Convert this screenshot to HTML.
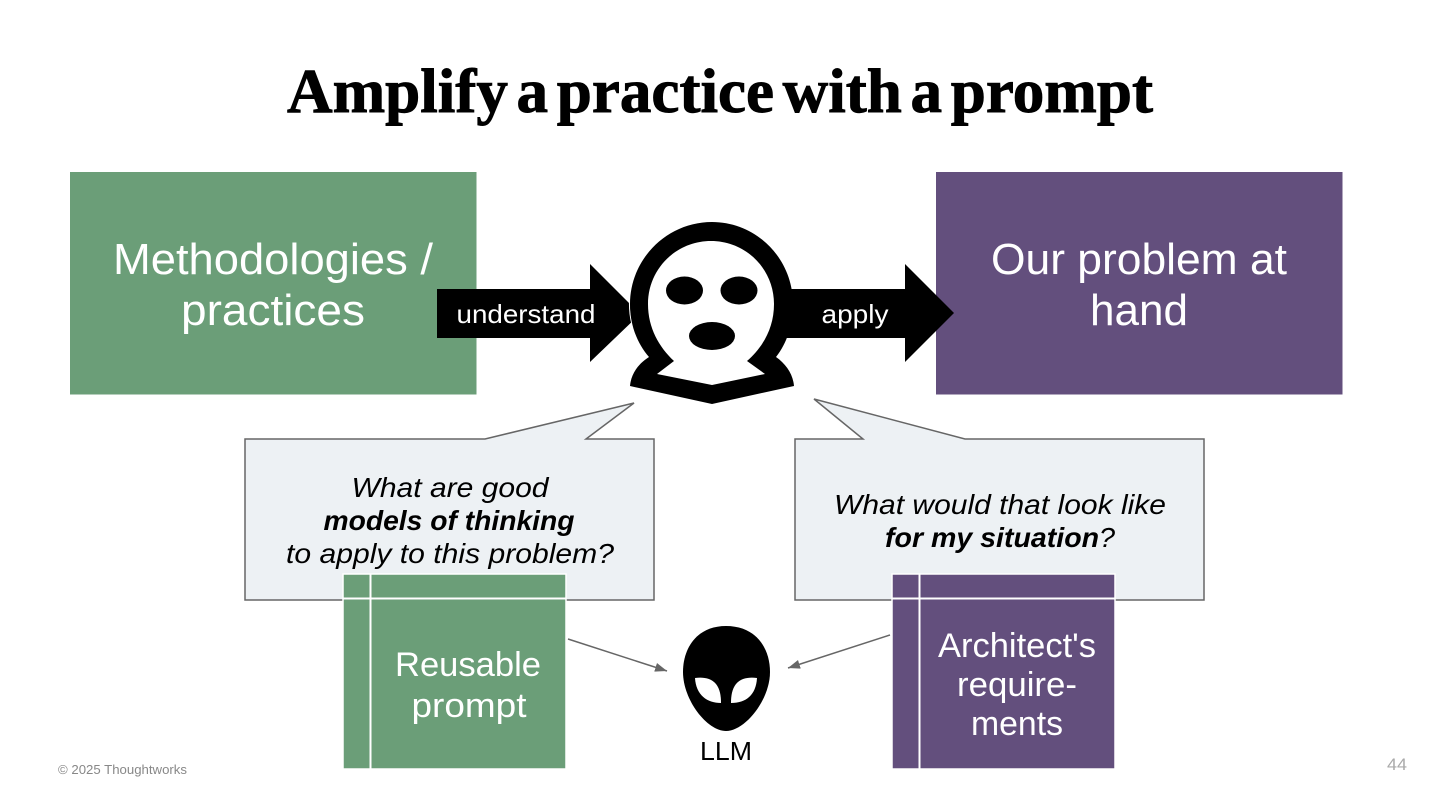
<!DOCTYPE html>
<html><head><meta charset="utf-8"><style>
html,body{margin:0;padding:0;background:#fff;width:1440px;height:810px;overflow:hidden}
svg{display:block}
text{font-family:"Liberation Sans",sans-serif}
</style></head><body>
<svg width="1440" height="810" viewBox="0 0 1440 810" xmlns="http://www.w3.org/2000/svg">
<defs><marker id="a" markerWidth="12" markerHeight="10" refX="12" refY="4.500" orient="auto" markerUnits="userSpaceOnUse"><path d="M0 0L12 4.500L0 9z" fill="#666"/></marker></defs>
<text x="720" y="112" text-anchor="middle" style="font-family:'Liberation Serif',serif;font-weight:700;font-size:62px;word-spacing:-7px" textLength="866" lengthAdjust="spacingAndGlyphs" fill="#000" stroke="#000" stroke-width="0.900">Amplify a practice with a prompt</text>

<rect x="70" y="172" width="406.500" height="222.500" fill="#6b9e78"/>
<rect x="936" y="172" width="406.500" height="222.500" fill="#634f7d"/>
<g fill="#fff" font-size="44" text-anchor="middle">
<text x="273" y="274" textLength="320" lengthAdjust="spacingAndGlyphs">Methodologies /</text>
<text x="273" y="325" textLength="184" lengthAdjust="spacingAndGlyphs">practices</text>
<text x="1139" y="274" textLength="296" lengthAdjust="spacingAndGlyphs">Our problem at</text>
<text x="1139" y="325" textLength="98" lengthAdjust="spacingAndGlyphs">hand</text>
</g>

<path d="M437 289H590V264L640 314L590 362V338H437Z" fill="#000"/>
<path d="M780 289H905V264L954 313L905 362V338H780Z" fill="#000"/>
<text x="526" y="323" fill="#fff" font-size="26" text-anchor="middle" textLength="139" lengthAdjust="spacingAndGlyphs">understand</text>
<text x="855" y="323" fill="#fff" font-size="26" text-anchor="middle" textLength="67" lengthAdjust="spacingAndGlyphs">apply</text>

<path d="M629.500 302C629.500 310 630 317 632 324" stroke="#fff" stroke-width="1.200" fill="none"/>
<path d="M712 222C667 222 630 259 630 304C630 325 637 343 649 357C638 364 631 374 630 386L712 404L794 386C793 374 786 364 776 357C787 343 793 325 793 304C793 259 757 222 712 222Z" fill="#000"/>
<path d="M711 241C676 241 648 269 648 304C648 328 659 347 674 361L657 374L712 385L765 374L747 361C763 347 774 328 774 304C774 269 746 241 711 241Z" fill="#fff"/>
<ellipse cx="684.500" cy="290.500" rx="18.500" ry="14" fill="#000"/>
<ellipse cx="739" cy="290.500" rx="18.500" ry="14" fill="#000"/>
<ellipse cx="712" cy="336" rx="23" ry="14" fill="#000"/>

<path d="M245 439H485L634 403L586 439H654V600H245Z" fill="#edf1f4" stroke="#666" stroke-width="1.500"/>
<path d="M795 439H863L814 399L965 439H1204V600H795Z" fill="#edf1f4" stroke="#666" stroke-width="1.500"/>
<g font-size="28" fill="#000" text-anchor="middle" font-style="italic">
<text x="450" y="497" textLength="197" lengthAdjust="spacingAndGlyphs">What are good</text>
<text x="449" y="530" font-weight="700" textLength="251" lengthAdjust="spacingAndGlyphs">models of thinking</text>
<text x="450" y="563" textLength="328" lengthAdjust="spacingAndGlyphs">to apply to this problem?</text>
<text x="1000" y="514" textLength="332" lengthAdjust="spacingAndGlyphs">What would that look like</text>
<text x="1000" y="547" textLength="230" lengthAdjust="spacingAndGlyphs"><tspan font-weight="700">for my situation</tspan>?</text>
</g>

<rect x="343" y="574" width="223" height="195" fill="#6b9e78" stroke="#fff" stroke-width="1.500"/>
<path d="M343 598.500H566M370.500 574V769" stroke="#fff" stroke-width="2" fill="none"/>
<rect x="892" y="574" width="223" height="195" fill="#634f7d" stroke="#fff" stroke-width="1.500"/>
<path d="M892 598.500H1115M919.500 574V769" stroke="#fff" stroke-width="2" fill="none"/>
<g fill="#fff" font-size="34" text-anchor="middle">
<text x="468" y="676" textLength="146" lengthAdjust="spacingAndGlyphs">Reusable</text>
<text x="469" y="717" textLength="115" lengthAdjust="spacingAndGlyphs">prompt</text>
<text x="1017" y="657" textLength="158" lengthAdjust="spacingAndGlyphs">Architect's</text>
<text x="1017" y="696" textLength="120" lengthAdjust="spacingAndGlyphs">require-</text>
<text x="1017" y="735" textLength="92" lengthAdjust="spacingAndGlyphs">ments</text>
</g>

<path d="M568 639L667 671" stroke="#666" stroke-width="1.500" fill="none" marker-end="url(#a)"/>
<path d="M890 635L788 668" stroke="#666" stroke-width="1.500" fill="none" marker-end="url(#a)"/>

<path d="M726 626C756 626 770 648 770 672C770 700 745 731 726 731C707 731 683 700 683 672C683 648 697 626 726 626Z" fill="#000"/>
<path d="M695 678C703 677 711 678 716 684C720 689 721 696 721 703C707 703 696 695 695 678Z" fill="#fff"/>
<path d="M757 678C749 677 741 678 736 684C732 689 731 696 731 703C746 703 756 695 757 678Z" fill="#fff"/>
<text x="726" y="760" font-size="26" fill="#000" text-anchor="middle" textLength="52" lengthAdjust="spacingAndGlyphs">LLM</text>

<text x="58" y="774" font-size="12.500" fill="#888" textLength="129" lengthAdjust="spacingAndGlyphs">© 2025 Thoughtworks</text>
<text x="1397" y="770" font-size="17" fill="#aaa" text-anchor="middle" textLength="20" lengthAdjust="spacingAndGlyphs">44</text>
</svg>
</body></html>
